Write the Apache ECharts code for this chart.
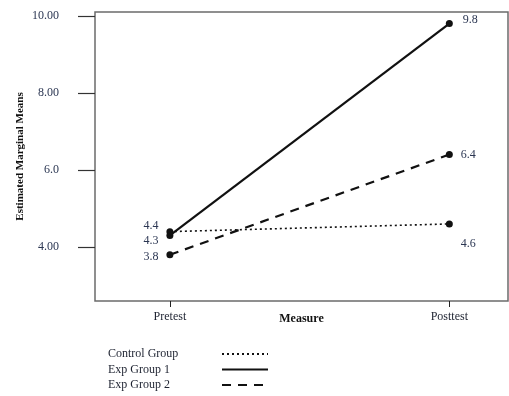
<!DOCTYPE html>
<html><head><meta charset="utf-8">
<script src="https://cdn.jsdelivr.net/npm/echarts@6/dist/echarts.min.js"></script>
<style>html,body{margin:0;padding:0;background:#fff}#c{width:509px;height:396px}</style>
</head><body><div id="c"></div>
<script>
const categories = ['Pretest', 'Posttest'];
const yTicks = [4, 6, 8, 10];
const yTickLabels = ['4.00', '6.0', '8.00', '10.00'];
const controlGroup = [4.4, 4.6];
const expGroup1 = [4.3, 9.8];
const expGroup2 = [3.8, 6.4];
const seriesNames = ['Control Group', 'Exp Group 1', 'Exp Group 2'];

const serif = 'Liberation Serif';
const labelColor = '#2b3652';

function mk(values, labelCfg) {
  return values.map((v, i) => ({ value: [i, v], label: labelCfg[i] }));
}
const lbl = (pos, off) => ({ show: true, position: pos, offset: off, distance: 8,
  color: labelColor, fontFamily: serif, fontSize: 12, formatter: p => p.value[1].toFixed(1) });

const chart = echarts.init(document.getElementById('c'));
chart.setOption({
  animation: false,
  grid: { left: 95, top: 12, right: 1, bottom: 95, show: true, borderColor: '#6b6b6b', borderWidth: 1.5 },
  xAxis: {
    type: 'value', min: -0.268, max: 1.21,
    splitLine: { show: false },
    axisLine: { show: false, onZero: false },
    axisTick: { show: true, length: 6, customValues: [0, 1], lineStyle: { color: '#222' } },
    axisLabel: { customValues: [0, 1], formatter: v => categories[Math.round(v)] || '', margin: 10,
      color: '#1d2230', fontFamily: serif, fontSize: 12 },
    name: 'Measure', nameLocation: 'middle', nameGap: 12, nameMoveOverlap: false,
    nameTextStyle: { fontFamily: serif, fontWeight: 'bold', fontSize: 12, color: '#111' }
  },
  yAxis: {
    type: 'value', min: 2.6, max: 10.1,
    splitLine: { show: false },
    axisLine: { show: false, onZero: false },
    axisTick: { show: true, length: 17, customValues: yTicks, lineStyle: { color: '#333', width: 1.2 } },
    axisLabel: { customValues: yTicks, formatter: v => yTickLabels[yTicks.indexOf(v)] || '', margin: 36,
      color: labelColor, fontFamily: serif, fontSize: 12 },
    name: 'Estimated Marginal Means', nameLocation: 'middle', nameGap: 69, nameRotate: 90, nameMoveOverlap: false,
    nameTextStyle: { fontFamily: serif, fontWeight: 'bold', fontSize: 11, color: '#111' }
  },
  legend: {
    orient: 'vertical', left: 108, top: 348, itemGap: 3.5, align: 'right', padding: 0,
    itemWidth: 46, itemHeight: 12,
    itemStyle: { opacity: 0 },
    formatter: name => '{a|' + name + '}',
    textStyle: { fontFamily: serif, fontSize: 12, color: '#1d2230',
      rich: { a: { width: 109, align: 'left', fontFamily: serif, fontSize: 12, color: '#1d2230' } } },
    data: seriesNames
  },
  series: [
    { name: seriesNames[0], type: 'line', symbol: 'circle', symbolSize: 7,
      itemStyle: { color: '#111' }, lineStyle: { color: '#111', width: 1.6, type: [2, 3] },
      data: mk(controlGroup, [lbl('left', [0, -6]), lbl('right', [0, 20])]) },
    { name: seriesNames[1], type: 'line', symbol: 'circle', symbolSize: 7,
      itemStyle: { color: '#111' }, lineStyle: { color: '#111', width: 2.2, type: 'solid' },
      data: mk(expGroup1, [lbl('left', [0, 5]), lbl('right', [2, -4])]) },
    { name: seriesNames[2], type: 'line', symbol: 'circle', symbolSize: 7,
      itemStyle: { color: '#111' }, lineStyle: { color: '#111', width: 2.2, type: [9, 7] },
      data: mk(expGroup2, [lbl('left', [0, 2]), lbl('right', [0, 0])]) }
  ]
});
</script></body></html>
